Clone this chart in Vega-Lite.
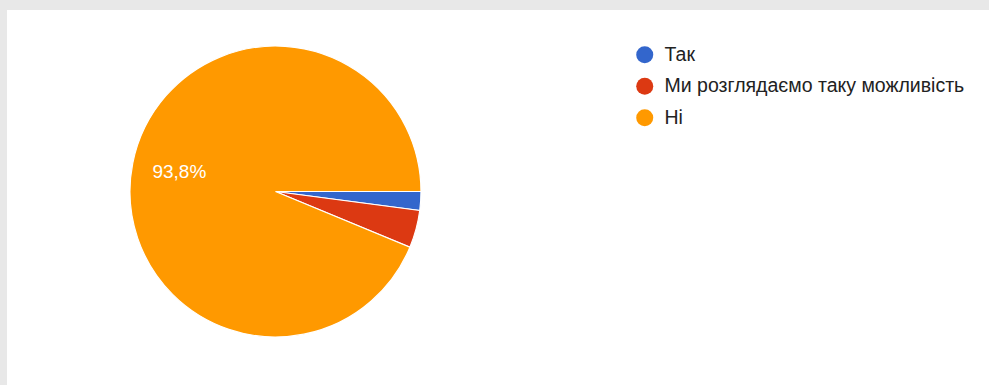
{
  "$schema": "https://vega.github.io/schema/vega-lite/v6.json",
  "width": 982,
  "height": 375,
  "autosize": {"type": "none"},
  "padding": {"left": 7, "top": 10, "right": 0, "bottom": 0},
  "background": "#e8e8e8",
  "config": {
    "view": {"stroke": null},
    "font": "Liberation Sans",
    "locale": {"number": {"decimal": ",", "thousands": " ", "grouping": [3], "currency": ["", ""]}}
  },
  "layer": [
    {
      "data": {"values": [{}]},
      "mark": {"type": "rect", "fill": "#ffffff"},
      "encoding": {
        "x": {"value": 0},
        "x2": {"value": "width"},
        "y": {"value": 0},
        "y2": {"value": "height"}
      }
    },
    {
      "data": {
        "values": [
          {"answer": "Так", "count": 1, "order": 1},
          {"answer": "Ми розглядаємо таку можливість", "count": 2, "order": 2},
          {"answer": "Ні", "count": 45, "order": 3}
        ]
      },
      "transform": [
        {"joinaggregate": [{"op": "sum", "field": "count", "as": "total"}]},
        {"calculate": "datum.count / datum.total", "as": "pct"}
      ],
      "encoding": {
        "theta": {"field": "count", "type": "quantitative", "stack": true, "scale": {"range": [1.5707963, 7.8539816]}},
        "order": {"field": "order", "type": "quantitative"}
      },
      "layer": [
        {
          "mark": {"type": "arc", "outerRadius": 145.5, "stroke": "#ffffff", "strokeWidth": 1.2, "x": {"expr": "width*0.2734"}, "y": {"expr": "height*0.4840"}},
          "encoding": {
            "color": {
              "field": "answer",
              "type": "nominal",
              "sort": ["Так", "Ми розглядаємо таку можливість", "Ні"],
              "scale": {"domain": ["Так", "Ми розглядаємо таку можливість", "Ні"], "range": ["#3366cc", "#dc3912", "#ff9900"]},
              "legend": {
                "title": null,
                "orient": "none",
                "legendX": 628,
                "legendY": 35,
                "symbolType": "circle",
                "symbolSize": 290,
                "symbolStrokeWidth": 0,
                "symbolOpacity": 1,
                "labelFontSize": 19.5,
                "labelFont": "Liberation Sans",
                "labelColor": "#222222",
                "labelOffset": 10,
                "labelLimit": 0,
                "rowPadding": 10.5,
                "padding": 0
              }
            }
          }
        },
        {
          "mark": {"type": "text", "radius": 98, "fill": "#ffffff", "fontSize": 19, "font": "Liberation Sans", "x": {"expr": "width*0.2734"}, "y": {"expr": "height*0.4840"}},
          "encoding": {
            "text": {"condition": {"test": "datum.pct > 0.1", "field": "pct", "type": "quantitative", "format": ".1%"}, "value": ""}
          }
        }
      ]
    }
  ]
}
